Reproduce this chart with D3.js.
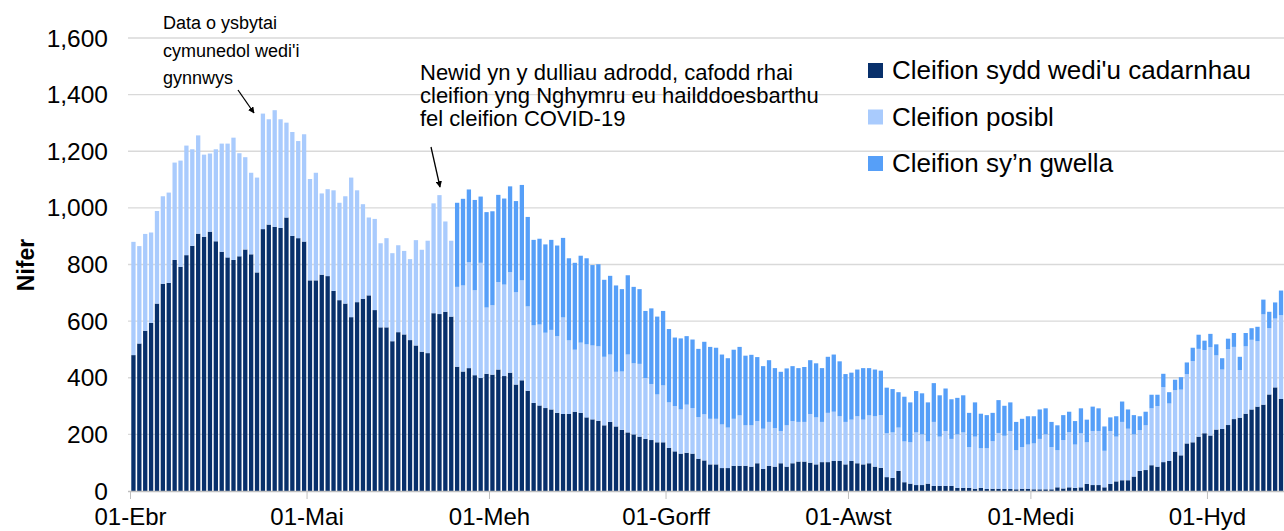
<!DOCTYPE html>
<html><head><meta charset="utf-8">
<script src="https://cdn.jsdelivr.net/npm/d3@7/dist/d3.min.js"></script>
<style>body{margin:0;background:#fff}svg{display:block;font-family:"Liberation Sans",Arial,sans-serif}</style>
</head><body><svg id="c" width="1284" height="531"></svg>
<script>
const startDate = "2020-04-01";
const dayCount = 196;
const monthTicks = ["01-Ebr","01-Mai","01-Meh","01-Gorff","01-Awst","01-Medi","01-Hyd"];
const monthTickDays = [0,30,61,91,122,153,183];
const yTicks = [0,200,400,600,800,1000,1200,1400,1600];
const seriesNames = ["Cleifion sydd wedi'u cadarnhau","Cleifion posibl","Cleifion sy\u2019n gwella"];
const confirmed = [480,521,566,594,662,732,735,816,792,833,866,909,898,916,882,845,
825,816,829,853,836,772,925,941,933,929,966,901,893,881,744,744,
764,759,707,674,662,614,667,679,691,639,578,578,529,561,553,533,514,
492,487,628,625,633,616,
439,422,434,409,399,414,411,429,406,418,
376,391,354,311,302,293,288,276,272,272,280,276,260,253,248,232,244,
228,216,207,200,192,184,180,172,172,152,140,132,135,132,114,108,
94,94,81,81,89,89,89,86,98,78,89,86,98,86,98,104,104,
100,94,102,102,106,106,94,106,98,94,98,86,82,49,46,71,
31,26,21,21,26,18,18,18,18,11,11,11,8,11,7,8,8,
7,7,6,8,8,6,6,6,6,13,9,13,11,13,25,21,
21,13,25,34,38,38,51,71,74,91,86,102,106,139,126,168,
172,192,204,196,217,219,233,254,259,273,288,298,305,341,366,325];
const possible = [400,344,342,319,327,309,319,344,375,387,341,347,290,276,325,382,
402,432,364,326,288,335,408,372,412,384,335,367,343,379,358,380,
287,307,355,344,379,493,395,334,275,322,297,315,311,307,295,286,372,
360,397,388,420,319,268,
282,304,374,300,407,234,245,309,323,355,
326,353,298,274,286,266,281,271,341,260,219,248,258,261,263,242,238,
193,206,275,251,257,215,198,169,201,161,160,156,170,161,147,163,
161,161,154,143,166,178,143,146,149,142,155,136,114,146,149,140,140,
172,166,142,174,174,158,150,146,166,158,169,178,186,155,161,153,
144,146,186,179,149,226,174,194,166,189,196,144,184,140,144,168,197,
188,205,138,147,156,162,178,194,149,131,171,195,153,191,147,191,
191,129,187,158,206,182,149,144,158,201,214,265,203,217,232,245,
287,310,294,312,262,210,268,255,168,238,246,231,319,234,243,296];
const recovering = [0,0,0,0,0,0,0,0,0,0,0,0,0,0,0,0,
0,0,0,0,0,0,0,0,0,0,0,0,0,0,0,0,
0,0,0,0,0,0,0,0,0,0,0,0,0,0,0,0,0,
0,0,0,0,0,0,
297,306,257,319,234,337,332,308,304,303,
322,337,316,302,303,312,318,320,281,290,307,307,304,284,290,272,278,
305,291,280,270,264,237,267,275,263,259,242,251,242,242,241,256,
254,251,247,245,244,242,246,249,226,221,218,212,209,201,194,190,194,
190,191,190,198,202,194,169,166,165,182,167,165,157,161,153,125,
158,141,146,145,138,137,146,150,140,129,131,121,121,122,117,100,116,
106,101,100,100,100,96,104,92,89,88,88,72,83,88,80,86,
80,86,48,72,72,68,68,49,48,48,40,47,40,37,44,41,
47,50,33,47,39,40,37,49,47,47,41,51,52,58,57,87];
const colors = ["#08306b","#a9cbfd","#569ff8"];

const svg = d3.select("#c");
const x0 = 130.5, step = 5.885;
const days = d3.range(dayCount);
const x = d3.scaleBand().domain(days).range([x0, x0 + dayCount*step]).paddingInner(0.27).paddingOuter(0.135);
const y = d3.scaleLinear().domain([0,1600]).range([491,38]);

// gridlines
svg.append("g").selectAll("line").data(yTicks.slice(1)).join("line")
  .attr("x1",128).attr("x2",1284).attr("y1",d=>y(d)).attr("y2",d=>y(d))
  .attr("stroke","#d9d9d9").attr("stroke-width",1.3);

const rows = days.map(i=>({i, c:confirmed[i], p:possible[i], r:recovering[i]}));
const stack = d3.stack().keys(["c","p","r"])(rows);
svg.append("g").selectAll("g").data(stack).join("g").attr("fill",(d,k)=>colors[k])
  .selectAll("rect").data(d=>d).join("rect")
  .attr("x",d=>x(d.data.i)).attr("width",x.bandwidth())
  .attr("y",d=>y(d[1])).attr("height",d=>Math.max(0,y(d[0])-y(d[1])));

// x axis
const xa = svg.append("g");
xa.append("line").attr("x1",128).attr("x2",1284).attr("y1",491.5).attr("y2",491.5).attr("stroke","#bfbfbf").attr("stroke-width",1.3);
xa.selectAll("line.t").data(monthTickDays).join("line").attr("class","t")
  .attr("x1",d=>x0+d*step).attr("x2",d=>x0+d*step).attr("y1",491).attr("y2",499).attr("stroke","#bfbfbf");
xa.selectAll("text").data(monthTickDays).join("text")
  .attr("x",d=>x0+d*step).attr("y",525).attr("text-anchor","middle")
  .attr("font-size",24).attr("fill","#000").text((d,i)=>monthTicks[i]);

// y axis labels
svg.append("g").selectAll("text").data(yTicks).join("text")
  .attr("x",108).attr("y",d=>y(d)+8.5).attr("text-anchor","end").attr("font-size",24.5)
  .text(d=>d3.format(",")(d));
svg.append("text").attr("transform","translate(34,265) rotate(-90)").attr("text-anchor","middle")
  .attr("font-size",23).attr("font-weight","bold").text("Nifer");

// legend
const lg = svg.append("g");
seriesNames.forEach((n,k)=>{
  const ly = 70 + k*46.5;
  lg.append("rect").attr("x",868).attr("y",ly-7).attr("width",15).attr("height",15).attr("fill",colors[k]);
  lg.append("text").attr("x",892).attr("y",ly+9).attr("font-size",26).text(n);
});

// annotations
svg.append("defs").append("marker").attr("id","ah").attr("viewBox","0 0 10 10").attr("refX",9).attr("refY",5)
  .attr("markerWidth",5).attr("markerHeight",5).attr("orient","auto")
  .append("path").attr("d","M0,0L10,5L0,10z").attr("fill","#000");
const a1 = ["Data o ysbytai","cymunedol wedi'i","gynnwys"];
a1.forEach((t,i)=>svg.append("text").attr("x",163).attr("y",29+i*27.5).attr("font-size",18).text(t));
svg.append("line").attr("x1",238).attr("y1",90).attr("x2",254).attr("y2",113).attr("stroke","#000").attr("stroke-width",1.3).attr("marker-end","url(#ah)");
const a2 = ["Newid yn y dulliau adrodd, cafodd rhai","cleifion yng Nghymru eu hailddoesbarthu","fel cleifion COVID-19"];
a2.forEach((t,i)=>svg.append("text").attr("x",420).attr("y",80+i*23).attr("font-size",22).text(t));
svg.append("line").attr("x1",431).attr("y1",147).attr("x2",440).attr("y2",187).attr("stroke","#000").attr("stroke-width",1.3).attr("marker-end","url(#ah)");
</script></body></html>
